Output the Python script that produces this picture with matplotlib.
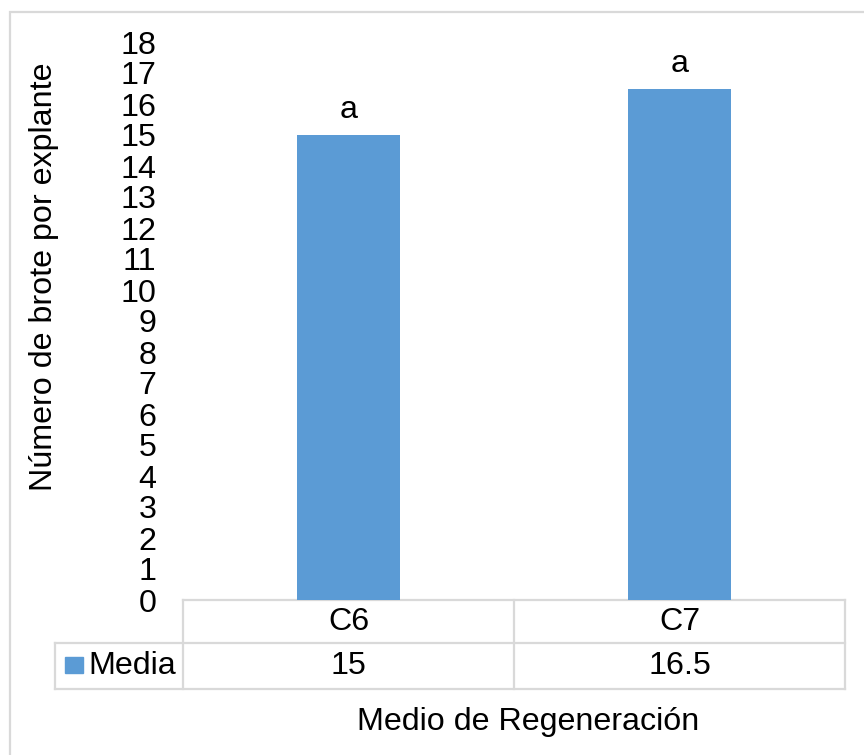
import matplotlib
matplotlib.use("Agg")
import matplotlib.pyplot as plt
from matplotlib.patches import Rectangle
from matplotlib.lines import Line2D

# Data
categories = ["C6", "C7"]
media = [15, 16.5]
letters = ["a", "a"]
series_name = "Media"
y_ticks = list(range(0, 19))

plt.rcParams["font.family"] = ["Liberation Sans", "DejaVu Sans"]

W, H = 864, 755
fig = plt.figure(figsize=(W / 100, H / 100), dpi=100)

def fx(px):
    return px / W

def fy(py):
    return 1 - py / H

bar_color = "#5B9BD5"
grid_color = "#D9D9D9"
fs = 23.2

# Plot area
left, right, top, bottom = 183, 845, 42, 600
ax = fig.add_axes([fx(left), fy(bottom), fx(right - left), (bottom - top) / H])
x = [i + 0.5 for i in range(len(categories))]
ax.bar(x, media, width=0.31, color=bar_color, zorder=2)
ax.set_xlim(0, len(categories))
ax.set_ylim(0, 18)
ax.set_yticks(y_ticks)
ax.set_yticklabels([str(t) for t in y_ticks], fontsize=fs)
ax.tick_params(axis="y", length=0, pad=19)
ax.set_xticks([])
for s in ax.spines.values():
    s.set_visible(False)

for xi, v, lab in zip(x, media, letters):
    ax.annotate(lab, (xi, v), xytext=(0, 18), textcoords="offset points",
                ha="center", va="center", fontsize=fs)

# Data table under the plot
row1_bottom, row2_bottom = 643, 689
table_left = 55
ah = bottom - top
def ay(py):
    return (bottom - py) / ah

tr = ax.get_xaxis_transform()
n = len(categories)
tl = (table_left - left) / ((right - left) / n)
lines = [
    ([0, n], [ay(bottom), ay(bottom)]),
    ([tl, n], [ay(row1_bottom), ay(row1_bottom)]),
    ([tl, n], [ay(row2_bottom), ay(row2_bottom)]),
    ([tl, tl], [ay(row1_bottom), ay(row2_bottom)]),
]
for k in range(n + 1):
    lines.append(([k, k], [ay(bottom), ay(row2_bottom)]))
for xs, ys in lines:
    ax.add_line(Line2D(xs, ys, transform=tr, color=grid_color, lw=1.6,
                       clip_on=False, zorder=1))

for xi, c, v in zip(x, categories, media):
    ax.text(xi, ay((bottom + row1_bottom) / 2), c, transform=tr,
            ha="center", va="center", fontsize=fs)
    ax.text(xi, ay((row1_bottom + row2_bottom) / 2), f"{v:g}", transform=tr,
            ha="center", va="center", fontsize=fs)

# Legend key inside the table
fig.patches.append(Rectangle((fx(65), fy(673)), fx(83) - fx(65), fy(657) - fy(673),
                             transform=fig.transFigure, color=bar_color))
fig.text(fx(88), fy((row1_bottom + row2_bottom) / 2), series_name,
         ha="left", va="center", fontsize=fs)

# Axis titles
fig.text(fx(528), fy(722), "Medio de Regeneración", ha="center", va="center",
         fontsize=fs)
fig.text(fx(44), fy(277), "Número de brote por explante", ha="center",
         va="center", rotation=90, fontsize=fs)

# Chart frame
fig.patches.append(Rectangle((fx(10), fy(H + 20)), 1.2, fy(12) - fy(H + 20),
                             transform=fig.transFigure, fill=False,
                             edgecolor=grid_color, lw=1.6))

fig.savefig("out.png", dpi=100)
